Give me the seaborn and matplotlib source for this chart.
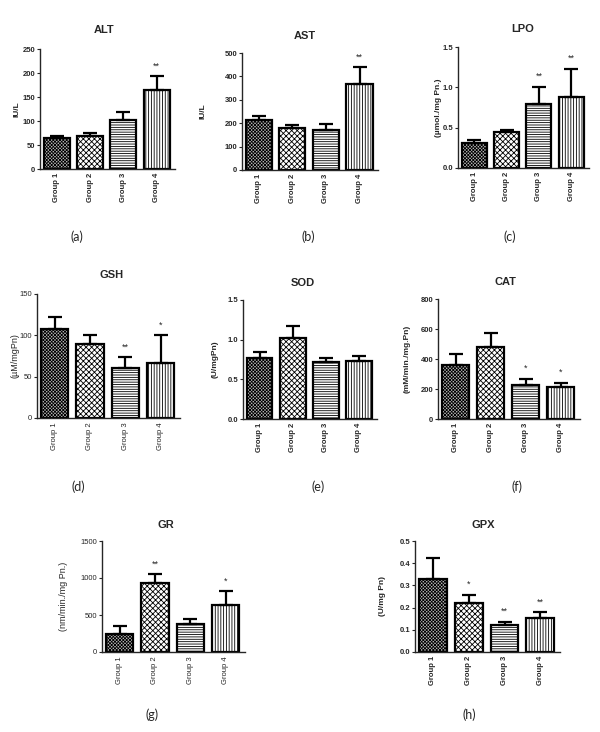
import numpy as np
import pandas as pd
import matplotlib
matplotlib.use("Agg")
import matplotlib.pyplot as plt
import seaborn as sns

# Données (moyenne + erreur supérieure)
groups = ["Group 1", "Group 2", "Group 3", "Group 4"]

alt_mean = [65, 68, 102, 165]
alt_err = [4, 6, 16, 28]
alt_sig = ["", "", "", "**"]

ast_mean = [212, 178, 172, 367]
ast_err = [18, 14, 25, 73]
ast_sig = ["", "", "", "**"]

lpo_mean = [0.31, 0.45, 0.79, 0.88]
lpo_err = [0.04, 0.02, 0.22, 0.35]
lpo_sig = ["", "", "**", "**"]

gsh_mean = [108, 89, 61, 66]
gsh_err = [14, 11, 13, 34]
gsh_sig = ["", "", "**", "*"]

sod_mean = [0.77, 1.02, 0.72, 0.73]
sod_err = [0.08, 0.15, 0.05, 0.07]
sod_sig = ["", "", "", ""]

cat_mean = [362, 483, 228, 212]
cat_err = [70, 90, 42, 31]
cat_sig = ["", "", "*", "*"]

gr_mean = [245, 930, 385, 640]
gr_err = [100, 120, 55, 185]
gr_sig = ["", "**", "", "*"]

gpx_mean = [0.33, 0.22, 0.123, 0.153]
gpx_err = [0.095, 0.038, 0.014, 0.027]
gpx_sig = ["", "*", "**", "**"]

hatches = ["xxxxxxxxxx", "xxxxxx", "-------", "||||||"]
fills = ["#b8b8b8", "white", "white", "white"]

sns.set_style("ticks")
plt.rcParams["font.family"] = ["Liberation Sans", "DejaVu Sans"]
plt.rcParams["hatch.linewidth"] = 0.6

W, H = 600, 732
fig = plt.figure(figsize=(6, 7.32), dpi=100)


def box(l, t, r, b):
    return [l / W, 1 - b / H, (r - l) / W, (b - t) / H]


def panel(rect, title, title_xy, ylabel, ylabel_x, mean, err, sig,
          yticks, ylabels, letter, letter_xy, bold=True):
    ax = fig.add_axes(box(*rect))
    df = pd.DataFrame({"groupe": groups, "valeur": mean})
    sns.barplot(data=df, x="groupe", y="valeur", ax=ax, color="white",
                edgecolor="black", linewidth=1.6, width=0.78,
                errorbar=None, saturation=1)
    for p, h, c in zip(ax.patches, hatches, fills):
        p.set_hatch(h)
        p.set_facecolor(c)
    # barres d'erreur (côté supérieur seulement)
    x = np.arange(len(groups))
    ax.errorbar(x, mean, yerr=[np.zeros(len(mean)), err], fmt="none",
                ecolor="black", elinewidth=1.6, capsize=5, capthick=1.6)
    for xi, m, e, s in zip(x, mean, err, sig):
        if s:
            ax.annotate(s, (xi, m + e), xytext=(0, 4), textcoords="offset points",
                        ha="center", va="bottom", fontsize=6.5)
    weight = "bold" if bold else "normal"
    ax.set_ylim(yticks[0], yticks[-1])
    ax.set_xlim(-0.5, 3.55)
    ax.set_yticks(yticks)
    ax.set_yticklabels(ylabels, fontsize=5.5, fontweight=weight)
    ax.set_xticks(x)
    ax.set_xticklabels(groups, rotation=90, fontsize=5.5, fontweight=weight)
    ax.set_xlabel("")
    ax.set_ylabel("")
    ax.tick_params(axis="y", length=2.5, width=0.8, pad=1)
    ax.tick_params(axis="x", length=0, pad=3)
    sns.despine(ax=ax)
    for sp in ["left", "bottom"]:
        ax.spines[sp].set_linewidth(1.0)
    fig.text(title_xy[0] / W, 1 - title_xy[1] / H, title, ha="center",
             va="center", fontsize=8, fontweight="bold")
    yc = (rect[1] + rect[3]) / 2
    fig.text(ylabel_x / W, 1 - yc / H, ylabel, rotation=90, ha="center",
             va="center", fontsize=6 if bold else 6.5, fontweight=weight)
    fig.text(letter_xy[0] / W, 1 - letter_xy[1] / H, letter, ha="center",
             va="center", fontsize=9, family="Lato")
    return ax


panel((40, 49, 175, 169), "ALT", (104, 30), "IU/L", 17,
      alt_mean, alt_err, alt_sig, [0, 50, 100, 150, 200, 250],
      ["0", "50", "100", "150", "200", "250"], "(a)", (77, 237))
panel((242, 53, 378, 170), "AST", (305, 36), "IU/L", 203,
      ast_mean, ast_err, ast_sig, [0, 100, 200, 300, 400, 500],
      ["0", "100", "200", "300", "400", "500"], "(b)", (308, 237))
panel((458, 47, 589, 168), "LPO", (523, 29), "(µmol./mg Pn.)", 438,
      lpo_mean, lpo_err, lpo_sig, [0, 0.5, 1.0, 1.5],
      ["0.0", "0.5", "1.0", "1.5"], "(c)", (510, 237))
panel((37, 294, 180, 418), "GSH", (112, 275), "(µM/mgPn)", 15,
      gsh_mean, gsh_err, gsh_sig, [0, 50, 100, 150],
      ["0", "50", "100", "150"], "(d)", (78, 487), bold=False)
panel((243, 300, 377, 419), "SOD", (303, 283), "(U/mgPn)", 215,
      sod_mean, sod_err, sod_sig, [0, 0.5, 1.0, 1.5],
      ["0.0", "0.5", "1.0", "1.5"], "(e)", (318, 487))
panel((438, 299, 580, 419), "CAT", (505, 282), "(mM/min./mg.Pn)", 407,
      cat_mean, cat_err, cat_sig, [0, 200, 400, 600, 800],
      ["0", "200", "400", "600", "800"], "(f)", (517, 487))
panel((102, 541, 245, 652), "GR", (166, 525), "(nm/min./mg Pn.)", 63,
      gr_mean, gr_err, gr_sig, [0, 500, 1000, 1500],
      ["0", "500", "1000", "1500"], "(g)", (152, 715), bold=False)
panel((415, 541, 560, 652), "GPX", (483, 525), "(U/mg Pn)", 383,
      gpx_mean, gpx_err, gpx_sig, [0, 0.1, 0.2, 0.3, 0.4, 0.5],
      ["0.0", "0.1", "0.2", "0.3", "0.4", "0.5"], "(h)", (469, 715))

fig.savefig("out.png", dpi=100, facecolor="white")
